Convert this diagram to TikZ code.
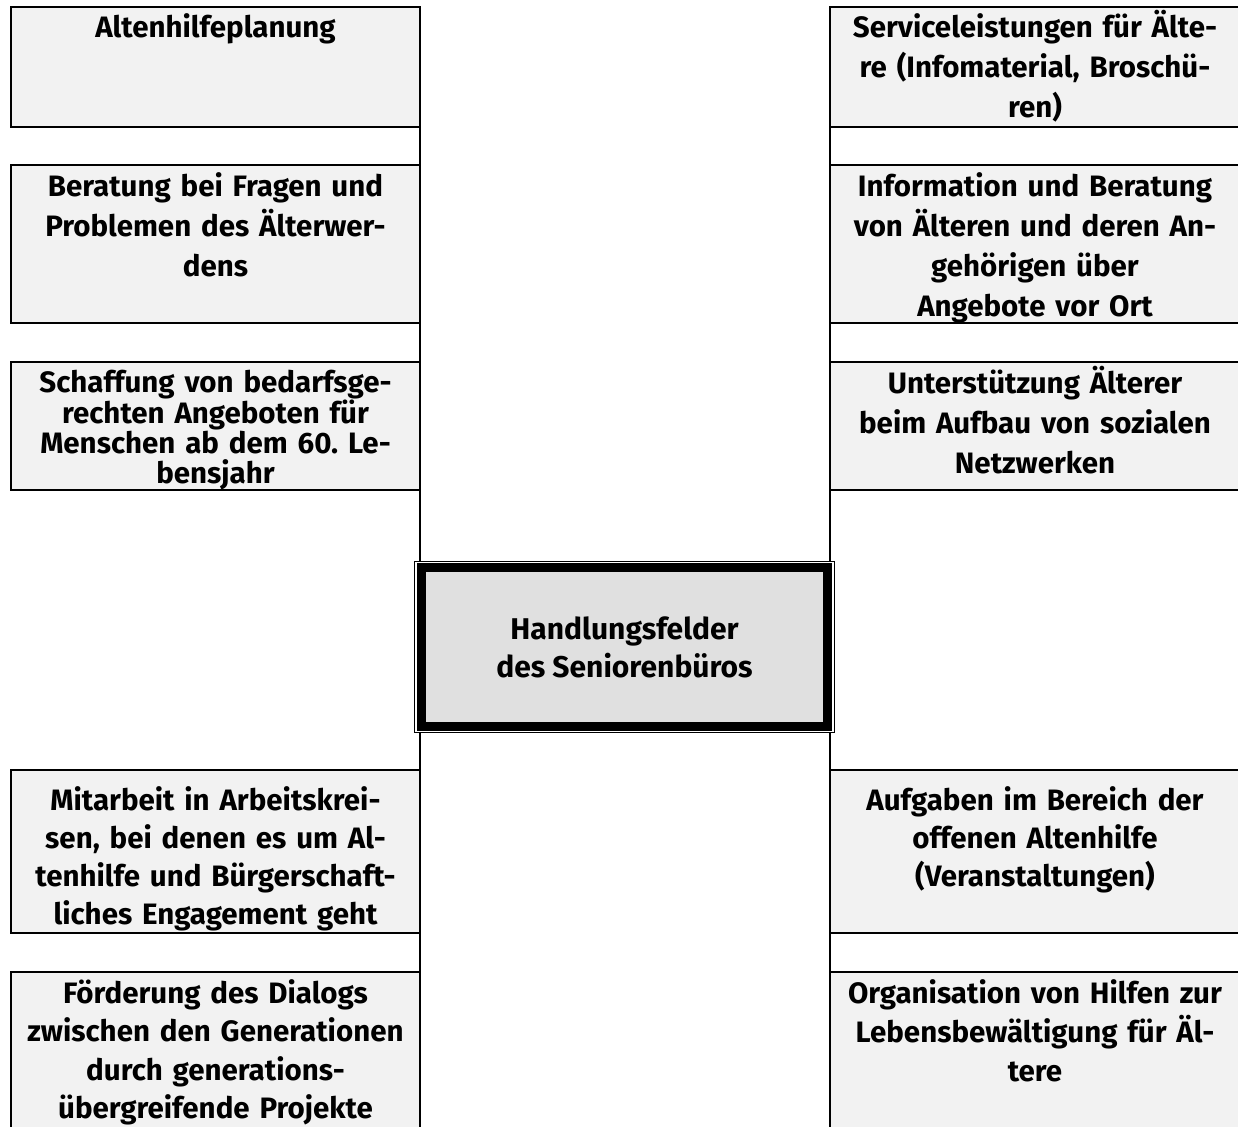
\documentclass[tikz,border=0pt]{standalone}
\usepackage{fontspec}
\setmainfont{Fira Sans}
\frenchspacing
\usetikzlibrary{positioning,calc}
\definecolor{feldgrau}{HTML}{F2F2F2}
\definecolor{mittegrau}{HTML}{E0E0E0}
\tikzset{feld/.style={draw, rectangle, line width=2pt, fill=feldgrau, inner sep=0pt, outer sep=0pt}}
\tikzstyle{ftext}=[anchor=base, text width=405pt, align=center, inner sep=0pt, font=\bfseries\fontsize{29.5}{40}\selectfont]
\tikzstyle{spine}=[line width=2pt]

\begin{document}
\begin{tikzpicture}[x=1pt, y=-1pt]
\useasboundingbox (0,0) rectangle (1238,1126);
\clip (0,0) rectangle (1238,1126);
% linke Spalte
\node[feld, minimum width=409pt, minimum height=120pt] (L1) at (215.5,67) {};
\node[feld, minimum width=409pt, minimum height=158pt, below=38pt of L1] (L2) {};
\node[feld, minimum width=409pt, minimum height=128pt, below=39pt of L2] (L3) {};
\node[feld, minimum width=409pt, minimum height=163pt, below=280pt of L3] (L4) {};
\node[feld, minimum width=409pt, minimum height=163pt, below=39pt of L4] (L5) {};
% rechte Spalte
\node[feld, minimum width=410pt, minimum height=120pt, right=410pt of L1] (R1) {};
\node[feld, minimum width=410pt, minimum height=158pt, right=410pt of L2] (R2) {};
\node[feld, minimum width=410pt, minimum height=128pt, right=410pt of L3] (R3) {};
\node[feld, minimum width=410pt, minimum height=163pt, right=410pt of L4] (R4) {};
\node[feld, minimum width=410pt, minimum height=163pt, right=410pt of L5] (R5) {};

\draw[spine] (L1.north east) -- (L5.south east);
\draw[spine] (R1.north west) -- (R5.south west);

% Texte
\node[ftext] (TL1) at ([yshift=-31pt]L1.north) {Altenhilfeplanung};
\node[ftext] (TL2) at ([yshift=-31pt]L2.north) {Beratung bei Fragen und\\Problemen des Älterwer-\\dens};
\node[ftext, font=\bfseries\fontsize{29.5}{30}\selectfont] (TL3) at ([yshift=-30pt]L3.north) {Schaffung von bedarfsge-\\rechten Angeboten für\\Menschen ab dem 60. Le-\\bensjahr};
\node[ftext, font=\bfseries\fontsize{29.5}{38}\selectfont] (TL4) at ([yshift=-40pt]L4.north) {Mitarbeit in Arbeitskrei-\\sen, bei denen es um Al-\\tenhilfe und Bürgerschaft-\\liches Engagement geht};
\node[ftext, font=\bfseries\fontsize{29.5}{38.5}\selectfont] (TL5) at ([yshift=-31pt]L5.north) {Förderung des Dialogs\\zwischen den Generationen\\durch generations-\\übergreifende Projekte};
\node[ftext] (TR1) at ([yshift=-31pt]R1.north) {Serviceleistungen für Älte-\\re (Infomaterial, Broschü-\\ren)};
\node[ftext] (TR2) at ([yshift=-31pt]R2.north) {Information und Beratung\\von Älteren und deren An-\\gehörigen über\\Angebote vor Ort};
\node[ftext] (TR3) at ([yshift=-31pt]R3.north) {Unterstützung Älterer\\beim Aufbau von sozialen\\Netzwerken};
\node[ftext, font=\bfseries\fontsize{29.5}{38}\selectfont] (TR4) at ([yshift=-40pt]R4.north) {Aufgaben im Bereich der\\offenen Altenhilfe\\(Veranstaltungen)};
\node[ftext, font=\bfseries\fontsize{29.5}{39}\selectfont] (TR5) at ([yshift=-31pt]R5.north) {Organisation von Hilfen zur\\Lebensbewältigung für Äl-\\tere};

% Mitte
\node[draw, line width=1pt, fill=white, minimum width=420pt, minimum height=171pt, outer sep=0pt] (HFR) at (624.5,647) {};
\node[draw, line width=9pt, fill=mittegrau, minimum width=406pt, minimum height=159pt, inner sep=0pt, align=center,
  font=\bfseries\fontsize{30}{38}\selectfont] (HF) at (HFR) {Handlungsfelder\\des Seniorenbüros};
\end{tikzpicture}
\end{document}
